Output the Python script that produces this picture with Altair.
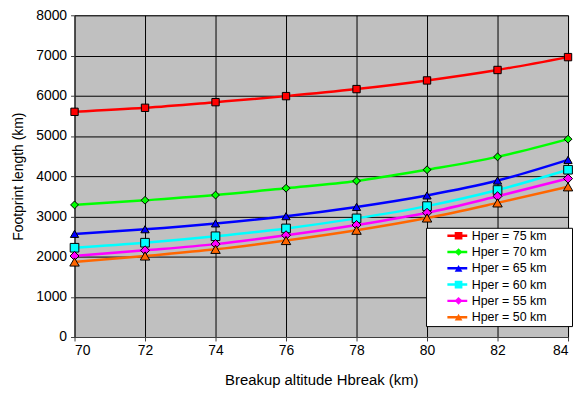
import altair as alt
import pandas as pd

x_vals = [70, 72, 74, 76, 78, 80, 82, 84]
series_names = ["Hper = 75 km", "Hper = 70 km", "Hper = 65 km",
                "Hper = 60 km", "Hper = 55 km", "Hper = 50 km"]
h75 = [5600, 5700, 5840, 5990, 6165, 6380, 6640, 6960]
h70 = [3285, 3400, 3530, 3700, 3880, 4160, 4480, 4920]
h65 = [2565, 2680, 2825, 3005, 3235, 3520, 3890, 4405]
h60 = [2220, 2345, 2505, 2700, 2950, 3255, 3655, 4160]
h55 = [2015, 2155, 2310, 2530, 2785, 3090, 3500, 3940]
h50 = [1865, 2015, 2180, 2400, 2655, 2960, 3335, 3735]
colors = ["#FF0000", "#00FF00", "#0000FF", "#00FFFF", "#FF00FF", "#FF6600"]
shapes = ["square", "diamond", "triangle-up", "square", "diamond", "triangle-up"]
marker_sizes = [55, 90, 70, 55, 90, 70]
y_ticks = [0, 1000, 2000, 3000, 4000, 5000, 6000, 7000, 8000]

rows = []
for name, vals in zip(series_names, [h75, h70, h65, h60, h55, h50]):
    for xv, yv in zip(x_vals, vals):
        rows.append({"x": xv, "y": yv, "series": name, "series2": name})
df = pd.DataFrame(rows)

FONT = "Liberation Sans"
LX, LY = 354, 214

xenc = alt.X("x:Q", scale=alt.Scale(domain=[70, 84], nice=False),
             axis=alt.Axis(values=x_vals, title="Breakup altitude Hbreak (km)",
                           titleFontSize=15, titlePadding=15, labelPadding=3, format="d"))
yenc = alt.Y("y:Q", scale=alt.Scale(domain=[0, 8000], nice=False),
             axis=alt.Axis(values=y_ticks, title="Footprint length (km)", format="d",
                           titleFontSize=14, titlePadding=10, labelPadding=4))

line_legend = alt.Legend(title="Hpe", titleOrient="right", titleOpacity=0,
                         titleFontSize=12.5, titlePadding=0, titleFont=FONT,
                         orient="none", legendX=LX, legendY=LY,
                         symbolType="stroke", symbolSize=400, symbolStrokeWidth=2.5,
                         symbolOffset=18,
                         labelFontSize=12.5, labelFont=FONT, labelColor="black",
                         clipHeight=12, rowPadding=3.4, padding=2,
                         fillColor="white", strokeColor="black", labelOffset=3)
marker_legend = alt.Legend(title=None, orient="none", legendX=LX, legendY=LY,
                           symbolSize=60, symbolOffset=24.5,
                           symbolStrokeColor="black", symbolStrokeWidth=1,
                           labelFontSize=12.5, labelFont=FONT, labelExpr="''",
                           clipHeight=12, rowPadding=3.4, padding=2, labelOffset=3)

lines = alt.Chart(df).mark_line(strokeWidth=2.5, interpolate="monotone").encode(
    x=xenc, y=yenc,
    stroke=alt.Stroke("series:N", sort=series_names,
                      scale=alt.Scale(domain=series_names, range=colors),
                      legend=line_legend),
    detail="series:N",
)

points = alt.Chart(df).mark_point(filled=True, stroke="black", strokeWidth=1, opacity=1).encode(
    x=xenc, y=yenc,
    fill=alt.Fill("series2:N", sort=series_names,
                  scale=alt.Scale(domain=series_names, range=colors),
                  legend=marker_legend),
    shape=alt.Shape("series2:N", sort=series_names,
                    scale=alt.Scale(domain=series_names, range=shapes),
                    legend=marker_legend),
    size=alt.Size("series2:N", scale=alt.Scale(domain=series_names, range=marker_sizes),
                  legend=None),
)

chart = alt.layer(lines, points).resolve_legend(
    stroke="independent", fill="independent", shape="independent"
).properties(
    width=497, height=324,
    autosize=alt.AutoSizeParams(type="none"),
    padding={"left": 67, "top": 6, "right": 5, "bottom": 50},
    background="white",
).configure_view(
    fill="#C0C0C0", stroke="#808080", strokeWidth=1
).configure_axis(
    grid=True, gridColor="black", gridOpacity=1, gridWidth=1,
    domainColor="#404040", tickColor="#404040", tickSize=4,
    labelFont=FONT, labelFontSize=14, labelColor="black",
    titleFont=FONT, titleColor="black", titleFontWeight="normal",
)

chart.save("out.html", embed_options={"renderer": "svg", "actions": False})
